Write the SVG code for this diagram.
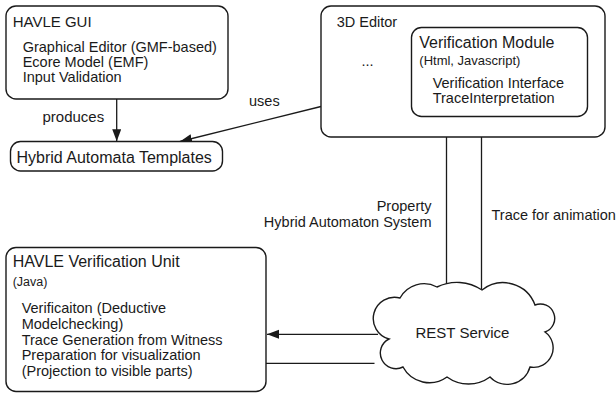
<svg xmlns="http://www.w3.org/2000/svg" width="616" height="397" viewBox="0 0 616 397">
<defs>
<style>
.box{fill:#fff;stroke:#1a1a1a;stroke-width:1.4}
.ln{fill:none;stroke:#1a1a1a;stroke-width:1.3}
text{font-family:"Liberation Sans",Arial,Helvetica,sans-serif;fill:#1a1a1a}
.t16{font-size:16px}
.t15{font-size:15px}
.t14{font-size:14.5px}
.t13{font-size:13px}
.t12{font-size:12.5px}
</style>
<marker id="arr" markerUnits="userSpaceOnUse" markerWidth="14" markerHeight="10" refX="12" refY="4.5" orient="auto">
<path d="M0,0 L12,4.5 L0,9 Z" fill="#1a1a1a"/>
</marker>
</defs>
<rect width="616" height="397" fill="#fff"/>

<g id="connectors">
<line class="ln" x1="116.7" y1="99" x2="116.7" y2="141.3" marker-end="url(#arr)"/>
<line class="ln" x1="321" y1="106.5" x2="180" y2="141.5" marker-end="url(#arr)"/>
<line class="ln" x1="446.5" y1="117" x2="446.5" y2="284.5"/>
<line class="ln" x1="481.5" y1="289" x2="481.5" y2="117.2" marker-end="url(#arr)"/>
<line class="ln" x1="378" y1="334.3" x2="267" y2="334.3" marker-end="url(#arr)"/>
<line class="ln" x1="266" y1="363.3" x2="374.5" y2="363.3"/>
<text class="t15" x="42.5" y="121.5">produces</text>
<text class="t14" x="249" y="106">uses</text>
<text class="t14" x="431.5" y="210.5" text-anchor="end">Property</text>
<text class="t14" x="431.5" y="227" text-anchor="end">Hybrid Automaton System</text>
<text class="t14" x="491.5" y="219.5">Trace for animation</text>
</g>

<g id="havle-gui">
<rect class="box" x="6" y="6" width="222" height="93" rx="10"/>
<text class="t15" x="12.7" y="27">HAVLE GUI</text>
<text class="t14" x="22.7" y="51.5">Graphical Editor (GMF-based)</text>
<text class="t14" x="22.7" y="66.5">Ecore Model (EMF)</text>
<text class="t14" x="22.7" y="81.5">Input Validation</text>
</g>

<g id="templates">
<rect class="box" x="10.5" y="141.5" width="212" height="29.5" rx="10"/>
<text class="t16" x="16.5" y="163.3">Hybrid Automata Templates</text>
</g>

<g id="editor-3d">
<rect class="box" x="321" y="6" width="284" height="131" rx="10"/>
<text class="t14" x="336.7" y="26.5">3D Editor</text>
<text class="t14" x="361.5" y="66">...</text>
</g>

<g id="verification-module">
<rect class="box" x="411.5" y="27.5" width="176" height="89" rx="10"/>
<text class="t16" x="419.3" y="48.3">Verification Module</text>
<text class="t13" x="419.3" y="65">(Html, Javascript)</text>
<text class="t14" x="432.7" y="87.6">Verification Interface</text>
<text class="t14" x="432.7" y="102.8">TraceInterpretation</text>
</g>

<g id="verification-unit">
<rect class="box" x="6" y="247.5" width="260" height="144" rx="10"/>
<text class="t16" x="12.7" y="267.3">HAVLE Verification Unit</text>
<text class="t12" x="12.7" y="286">(Java)</text>
<text class="t14" x="21.7" y="312.7">Verificaiton (Deductive</text>
<text class="t14" x="21.7" y="328.7">Modelchecking)</text>
<text class="t14" x="21.7" y="344.5">Trace Generation from Witness</text>
<text class="t14" x="21.7" y="360.3">Preparation for visualization</text>
<text class="t14" x="21.7" y="376.3">(Projection to visible parts)</text>
</g>

<g id="rest-service">
<path class="box" d="M389,339 A21.2,21.2 0 1 1 400,298 A27.3,27.3 0 0 1 437,287 A45,45 0 0 1 482,290 A34,34 0 0 1 535,305 A14.4,14.4 0 1 1 545,332 A19.5,19.5 0 0 1 530,367 A23.7,23.7 0 0 1 490,377 A36.5,36.5 0 0 1 447,377 A30,30 0 0 1 403,367 A15.6,15.6 0 1 1 389,339 Z"/>
<text class="t15" x="462.5" y="338.3" text-anchor="middle">REST Service</text>
</g>
</svg>
